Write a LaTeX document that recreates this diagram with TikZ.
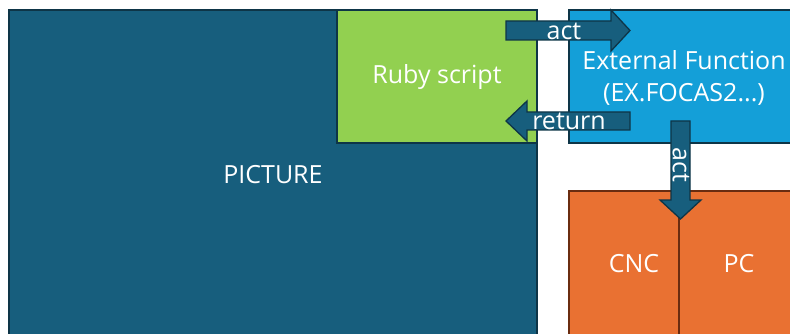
\documentclass[tikz,border=0pt]{standalone}
\usepackage{fontspec}
\setmainfont{Open Sans}
\begin{document}
\begin{tikzpicture}[x=1pt,y=-1pt,
  box/.style={draw=#1, line width=1.3pt, anchor=north west, inner sep=0pt, outer sep=0pt},
  lbl/.style={text=white, font=\fontsize{25}{29}\selectfont, inner sep=0pt},
  barrow/.style={fill=arrowblue, draw=arrowedge, line width=1.3pt, line join=miter}]
\definecolor{darkblue}{HTML}{175E7D}
\definecolor{darkedge}{HTML}{0E3547}
\definecolor{rubygreen}{HTML}{92D050}
\definecolor{extblue}{HTML}{149FD8}
\definecolor{orangefill}{HTML}{E97132}
\definecolor{orangeedge}{HTML}{6A2C10}
\definecolor{arrowblue}{HTML}{175E7D}
\definecolor{arrowedge}{HTML}{0E3547}
\useasboundingbox (0,0) rectangle (790,334);
\clip (0,0) rectangle (790,334);
% main boxes
\node[box=darkedge, fill=darkblue, minimum width=528pt, minimum height=330pt] (pic) at (9,10) {};
\node[box=darkedge, fill=rubygreen, minimum width=200pt, minimum height=133pt] (ruby) at (337,10) {};
\node[box=darkedge, fill=extblue, minimum width=230pt, minimum height=133pt] (ext) at (569,10) {};
\node[box=orangeedge, fill=orangefill, minimum width=110pt, minimum height=150pt] (cnc) at (569,191) {};
\node[box=orangeedge, fill=orangefill, minimum width=120pt, minimum height=150pt] (pc) at (679,191) {};
% texts
\node[lbl] at (273,175) {PICTURE};
\node[lbl] at (437,77) {Ruby script};
\node[lbl] at (684,60) {External Function};
\node[lbl] at (684,94) {(EX.FOCAS2...)};
\node[lbl] at (634,264) {CNC};
\node[lbl] at (739,264) {PC};
% block arrows
\draw[barrow] (506,21) -- (611,21) -- (611,10) -- (630,30.5) -- (611,51) -- (611,40) -- (506,40) -- cycle;
\node[lbl] (actr) at (564,31) {act};
\draw[barrow] (630,112) -- (527,112) -- (527,101) -- (506,121) -- (527,141) -- (527,130) -- (630,130) -- cycle;
\node[lbl] (ret) at (569,121) {return};
\draw[barrow] (671,121) -- (671,200) -- (660,200) -- (680.5,219) -- (701,200) -- (690,200) -- (690,121) -- cycle;
\node[lbl, rotate=-90] (actd) at (681,165) {act};
\end{tikzpicture}
\end{document}
